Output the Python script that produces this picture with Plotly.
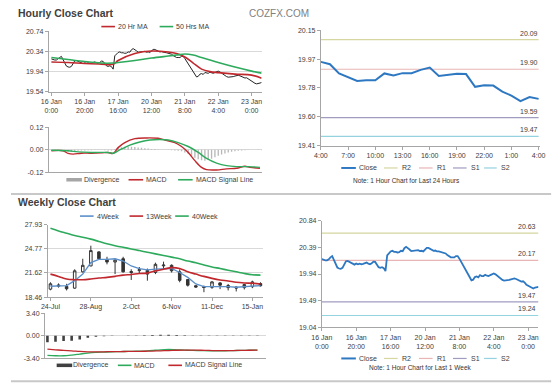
import plotly.graph_objects as go

W, H = 560, 386
FONT = "Liberation Sans, Arial, sans-serif"
TXT = "#404040"
AX = "#a6a6a6"
GRID = "#d9d9d9"
RED = "#c0282d"
GREEN = "#2eaa5c"
BLUE4 = "#5b8fc9"
BLUE = "#2e78c2"
R2C, R1C, S1C, S2C = "#d6d6a0", "#e8b4b4", "#a09cc0", "#94d2e0"

# ---------------- data ----------------
# hourly close, 16 Jan 0:00 .. 23 Jan 6:00 (one value per trading hour)
hourly_close = [
    20.193, 20.177, 20.171, 20.171, 20.188, 20.221, 20.243, 20.177, 20.099, 20.050,
    20.033, 20.027, 20.044, 20.099, 20.155, 20.160, 20.144, 20.122, 20.110, 20.099,
    20.116, 20.105, 20.116, 20.105, 20.110, 20.122, 20.133, 20.116, 20.105, 20.122,
    20.149, 20.144, 20.088, 20.055, 20.044, 20.055, 20.039, 19.989, 20.254, 20.298,
    20.321, 20.332, 20.315, 20.315, 20.304, 20.309, 20.332, 20.326, 20.376, 20.398,
    20.381, 20.354, 20.326, 20.332, 20.337, 20.337, 20.343, 20.326, 20.332, 20.321,
    20.354, 20.381, 20.381, 20.365, 20.343, 20.332, 20.337, 20.321, 20.321, 20.315,
    20.309, 20.298, 20.287, 20.260, 20.232, 20.221, 20.221, 20.221, 20.243, 20.243,
    20.199, 20.144, 20.088, 20.039, 19.978, 19.939, 19.889, 19.834, 19.845, 19.889,
    19.900, 19.884, 19.922, 19.906, 19.906, 19.928, 19.911, 19.906, 19.922, 19.934,
    19.950, 19.934, 19.911, 19.884, 19.856, 19.840, 19.829, 19.829, 19.834, 19.840,
    19.851, 19.862, 19.867, 19.856, 19.840, 19.823, 19.812, 19.817, 19.795, 19.757,
    19.740, 19.729, 19.707, 19.696, 19.712, 19.712, 19.723,
]
hour_ticks = [0, 20, 40, 60, 80, 100, 120]
hour_labels = ["16 Jan<br>0:00", "16 Jan<br>20:00", "17 Jan<br>16:00", "20 Jan<br>12:00",
               "21 Jan<br>8:00", "22 Jan<br>4:00", "23 Jan<br>0:00"]

ma_hours = [0, 10, 20, 30, 37, 40, 50, 60, 70, 75, 80, 85, 90, 95, 100, 110, 120, 126]
ma20 = [20.13, 20.12, 20.10, 20.09, 20.085, 20.16, 20.30, 20.35, 20.33, 20.30, 20.23, 20.11,
        19.99, 19.94, 19.92, 19.89, 19.87, 19.81]
ma50 = [20.22, 20.18, 20.14, 20.11, 20.11, 20.12, 20.16, 20.21, 20.25, 20.27, 20.29, 20.27,
        20.22, 20.17, 20.12, 20.03, 19.95, 19.91]

macd_hours = [0, 7, 10, 13, 18, 24, 30, 34, 37, 40, 44, 50, 57, 64, 68, 74, 78, 82, 86, 90,
              93, 99, 105, 111, 116, 119, 125]
macd_h = [-0.005, -0.005, -0.019, -0.023, -0.018, -0.018, -0.016, -0.014, -0.019, 0.012, 0.039,
          0.060, 0.064, 0.062, 0.053, 0.039, 0.018, -0.014, -0.058, -0.094, -0.106, -0.108,
          -0.102, -0.099, -0.088, -0.094, -0.099]
signal_hours = [0, 10, 16, 24, 34, 37, 41, 47, 53, 59, 65, 70, 76, 82, 88, 93, 99, 105, 111,
                118, 125]
signal_h = [-0.002, -0.005, -0.011, -0.014, -0.014, -0.018, 0.000, 0.025, 0.042, 0.053, 0.056,
            0.053, 0.039, 0.018, -0.014, -0.046, -0.071, -0.085, -0.090, -0.090, -0.094]
div_hours = list(range(0, 127, 2))
div_h = [-0.002, -0.003, -0.005, -0.008, -0.010, -0.010, -0.009, -0.007, -0.005, -0.004,
         -0.003, -0.002, -0.002, -0.001, -0.001, -0.001, -0.002, -0.003, -0.004, 0.004,
         0.010, 0.014, 0.016, 0.017, 0.016, 0.015, 0.013, 0.011, 0.009, 0.007,
         0.005, 0.004, 0.002, 0.001, 0.000, -0.001, -0.002, -0.003, -0.005, -0.008,
         -0.014, -0.022, -0.032, -0.042, -0.050, -0.056, -0.058, -0.055, -0.048, -0.040,
         -0.032, -0.025, -0.019, -0.014, -0.010, -0.007, -0.005, -0.003, -0.002, -0.001,
         0.000, 0.000, -0.001, -0.002]

# last 24 hours
day_close = [19.947, 19.932, 19.873, 19.848, 19.825, 19.829, 19.829, 19.873, 19.860, 19.875,
             19.875, 19.896, 19.911, 19.857, 19.865, 19.871, 19.869, 19.787, 19.797, 19.795,
             19.756, 19.731, 19.695, 19.722, 19.710]
day_tick_labels = ["4:00", "7:00", "10:00", "13:00", "16:00", "19:00", "22:00", "1:00", "4:00"]
day_levels = {"R2": 20.09, "R1": 19.90, "S1": 19.59, "S2": 19.47}
week_levels = {"R2": 20.63, "R1": 20.17, "S1": 19.47, "S2": 19.24}

# weekly
weeks = ["24-Jul", "31-Jul", "7-Aug", "14-Aug", "21-Aug", "28-Aug", "4-Sep", "11-Sep", "18-Sep",
         "25-Sep", "2-Oct", "9-Oct", "16-Oct", "23-Oct", "30-Oct", "6-Nov", "13-Nov", "20-Nov",
         "27-Nov", "4-Dec", "11-Dec", "18-Dec", "25-Dec", "1-Jan", "8-Jan", "15-Jan", "22-Jan"]
w_open = [19.50, 20.05, 19.85, 19.63, 21.77, 22.54, 24.38, 23.39, 23.05, 23.48, 21.81, 21.92,
          21.95, 21.68, 22.55, 22.62, 21.77, 20.75, 19.95, 19.84, 19.73, 20.32, 19.97, 19.78,
          19.70, 19.82, 20.23]
w_close = [20.20, 19.90, 19.55, 21.90, 22.62, 24.55, 23.48, 23.05, 23.30, 21.77, 21.68, 22.05,
           21.47, 22.75, 22.65, 21.90, 20.65, 20.02, 19.77, 19.72, 20.45, 20.02, 19.70, 19.65,
           20.10, 20.45, 19.94]
w_high = [20.40, 20.25, 20.20, 22.10, 23.48, 25.19, 24.46, 23.74, 23.50, 23.74, 22.10, 22.40,
          22.20, 22.97, 23.10, 22.75, 22.10, 20.83, 19.97, 19.97, 20.55, 20.40, 20.18, 19.84,
          20.18, 20.61, 20.40]
w_low = [19.35, 19.70, 19.33, 19.55, 21.68, 22.50, 23.39, 22.75, 21.47, 21.68, 20.70, 21.60,
         20.61, 21.47, 22.10, 21.68, 20.40, 19.84, 19.67, 19.10, 19.54, 19.50, 19.33, 19.20,
         19.46, 19.63, 19.84]
ma4w = [19.88, 19.88, 19.97, 20.61, 21.47, 22.97, 23.39, 23.39, 23.48, 23.18, 22.54, 22.20,
        22.02, 22.11, 22.20, 22.20, 21.68, 21.04, 20.18, 19.84, 19.84, 19.88, 19.84, 19.75,
        19.84, 19.97, 19.97]
ma13w = [21.47, 21.17, 20.83, 20.74, 20.74, 20.83, 20.95, 21.04, 21.17, 21.34, 21.42, 21.55,
         21.60, 21.89, 22.11, 22.32, 22.20, 21.77, 21.47, 21.17, 20.91, 20.70, 20.57, 20.40,
         20.31, 20.27, 20.18]
ma40w = [27.46, 27.12, 26.82, 26.52, 26.30, 26.05, 25.75, 25.45, 25.19, 24.98, 24.76, 24.55,
         24.33, 24.12, 23.91, 23.69, 23.48, 23.18, 22.97, 22.67, 22.41, 22.20, 21.98, 21.77,
         21.55, 21.38, 21.34]
macd_w = [-2.98, -3.03, -3.03, -2.93, -2.78, -2.63, -2.53, -2.48, -2.43, -2.40, -2.38, -2.35,
          -2.33, -2.23, -2.13, -2.08, -2.13, -2.18, -2.23, -2.25, -2.28, -2.28, -2.28, -2.25,
          -2.23, -2.20, -2.18]
signal_w = [-2.03, -2.13, -2.23, -2.28, -2.38, -2.43, -2.43, -2.43, -2.41, -2.40, -2.38, -2.36,
            -2.35, -2.32, -2.28, -2.25, -2.20, -2.18, -2.18, -2.20, -2.23, -2.25, -2.25, -2.24,
            -2.22, -2.20, -2.18]
div_w = [-1.0, -0.9, -0.8, -0.75, -0.55, -0.3, -0.15, -0.08, -0.03, 0.0, 0.05, 0.06, 0.08,
         0.12, 0.15, 0.17, 0.12, 0.08, 0.05, 0.05, 0.05, 0.04, 0.04, 0.04, 0.04, 0.05, 0.05]

# axis tick values / labels
y1t = [19.54, 19.94, 20.34, 20.74]
y2t = [-0.12, 0.0, 0.12]
y3t = [18.46, 21.62, 24.77, 27.93]
y4t = [-3.40, 0.0, 3.40]
y5t = [19.41, 19.595, 19.78, 19.965, 20.15]
y5_labels = ["19.41", "19.60", "19.78", "19.97", "20.15"]
y6t = [19.04, 19.49, 19.94, 20.39, 20.84]

week_idx = list(range(len(weeks)))
day_idx = list(range(len(day_close)))
hour_idx = list(range(len(hourly_close)))


# ---------------- helpers ----------------
def xd(a, b):
    return [a / W, b / W]


def yd(top, bottom):
    return [1 - bottom / H, 1 - top / H]


def px(x):
    return x / W


def py(y):
    return 1 - y / H


fig = go.Figure()

# Panel 1: hourly price
fig.add_trace(go.Scatter(x=hour_idx, y=hourly_close, mode="lines", line=dict(color="#222222", width=1),
                         xaxis="x", yaxis="y"))
fig.add_trace(go.Scatter(x=ma_hours, y=ma20, mode="lines", line=dict(color=RED, width=1.6, shape="spline"),
                         xaxis="x", yaxis="y"))
fig.add_trace(go.Scatter(x=ma_hours, y=ma50, mode="lines", line=dict(color=GREEN, width=1.6, shape="spline"),
                         xaxis="x", yaxis="y"))

# Panel 2: hourly MACD
fig.add_trace(go.Bar(x=div_hours, y=div_h, width=0.8, marker=dict(color="#b8b8b8", line=dict(width=0)),
                     xaxis="x2", yaxis="y2"))
fig.add_trace(go.Scatter(x=macd_hours, y=macd_h, mode="lines", line=dict(color=RED, width=1.4, shape="spline"),
                         xaxis="x2", yaxis="y2"))
fig.add_trace(go.Scatter(x=signal_hours, y=signal_h, mode="lines", line=dict(color=GREEN, width=1.4, shape="spline"),
                         xaxis="x2", yaxis="y2"))

# Panel 3: weekly candles
fig.add_trace(go.Candlestick(x=week_idx, open=w_open, high=w_high, low=w_low, close=w_close,
                             increasing=dict(line=dict(color="#333333", width=1), fillcolor="white"),
                             decreasing=dict(line=dict(color="#333333", width=1), fillcolor="#333333"),
                             whiskerwidth=0, xaxis="x3", yaxis="y3"))
fig.add_trace(go.Scatter(x=week_idx, y=ma4w, mode="lines", line=dict(color=BLUE4, width=1.3),
                         xaxis="x3", yaxis="y3"))
fig.add_trace(go.Scatter(x=week_idx, y=ma13w, mode="lines", line=dict(color=RED, width=1.6, shape="spline"),
                         xaxis="x3", yaxis="y3"))
fig.add_trace(go.Scatter(x=week_idx, y=ma40w, mode="lines", line=dict(color=GREEN, width=1.6, shape="spline"),
                         xaxis="x3", yaxis="y3"))

# Panel 4: weekly MACD
fig.add_trace(go.Bar(x=week_idx, y=div_w, width=0.32, marker=dict(color="#404040", line=dict(width=0)),
                     xaxis="x4", yaxis="y4"))
fig.add_trace(go.Scatter(x=week_idx, y=macd_w, mode="lines", line=dict(color=GREEN, width=1.3, shape="spline"),
                         xaxis="x4", yaxis="y4"))
fig.add_trace(go.Scatter(x=week_idx, y=signal_w, mode="lines", line=dict(color=RED, width=1.3, shape="spline"),
                         xaxis="x4", yaxis="y4"))

# Panel 5: last 24h with pivot levels
lvl_colors = {"R2": R2C, "R1": R1C, "S1": S1C, "S2": S2C}
for k, v in day_levels.items():
    fig.add_trace(go.Scatter(x=[day_idx[0], day_idx[-1]], y=[v, v], mode="lines",
                             line=dict(color=lvl_colors[k], width=1.2), xaxis="x5", yaxis="y5"))
fig.add_trace(go.Scatter(x=day_idx, y=day_close, mode="lines", line=dict(color=BLUE, width=2),
                         xaxis="x5", yaxis="y5"))

# Panel 6: last week with pivot levels
for k, v in week_levels.items():
    fig.add_trace(go.Scatter(x=[hour_idx[0], hour_idx[-1]], y=[v, v], mode="lines",
                             line=dict(color=lvl_colors[k], width=1.2), xaxis="x6", yaxis="y6"))
fig.add_trace(go.Scatter(x=hour_idx, y=hourly_close, mode="lines", line=dict(color=BLUE, width=1.8),
                         xaxis="x6", yaxis="y6"))

# ---------------- axes ----------------
tickfont = dict(family=FONT, size=7, color=TXT)
base_x = dict(showline=True, linecolor=AX, linewidth=1, ticks="outside", ticklen=3, tickcolor=AX,
              tickfont=tickfont, showgrid=False, zeroline=False, fixedrange=True)
base_y = dict(showline=True, linecolor=AX, linewidth=1, ticks="outside", ticklen=3, tickcolor=AX,
              tickfont=tickfont, zeroline=False, fixedrange=True)


def fmt(vals):
    return ["%.2f" % v for v in vals]


fig.update_layout(
    xaxis=dict(base_x, domain=xd(39, 258), range=[-1.5, 126], tickvals=hour_ticks, ticktext=hour_labels,
               anchor="y"),
    yaxis=dict(base_y, domain=yd(27.7, 89.3), range=[19.54, 20.745], tickvals=y1t, ticktext=fmt(y1t),
               showgrid=True, gridcolor=GRID, anchor="x"),
    xaxis2=dict(base_x, domain=xd(39, 258), range=[-1.5, 126], showticklabels=False, ticks="",
                anchor="y2"),
    yaxis2=dict(base_y, domain=yd(125.7, 171.3), range=[-0.12, 0.1205], tickvals=y2t, ticktext=fmt(y2t),
                showgrid=True, gridcolor=GRID, anchor="x2"),
    xaxis3=dict(base_x, domain=xd(37.7, 259.3), range=[-0.35, 26.3], tickvals=week_idx[::5],
                ticktext=weeks[::5], rangeslider=dict(visible=False), anchor="y3"),
    yaxis3=dict(base_y, domain=yd(224.7, 298.5), range=[18.46, 27.95], tickvals=y3t, ticktext=fmt(y3t),
                showgrid=True, gridcolor=GRID, anchor="x3"),
    xaxis4=dict(base_x, domain=xd(35, 262), range=[-0.3, 27], showticklabels=False, ticks="",
                anchor="y4"),
    yaxis4=dict(base_y, domain=yd(315, 360.7), range=[-3.40, 3.42], tickvals=y4t, ticktext=fmt(y4t),
                showgrid=True, gridcolor=GRID, anchor="x4"),
    xaxis5=dict(base_x, domain=xd(319, 545), range=[0, 24.2], tickvals=day_idx[::3],
                ticktext=day_tick_labels, anchor="y5"),
    yaxis5=dict(base_y, domain=yd(26.7, 144.3), range=[19.41, 20.15], tickvals=y5t, ticktext=y5_labels,
                showgrid=False, anchor="x5"),
    xaxis6=dict(base_x, domain=xd(320, 543), range=[0, 126], tickvals=hour_ticks, ticktext=hour_labels,
                anchor="y6"),
    yaxis6=dict(base_y, domain=yd(220.7, 329.3), range=[19.04, 20.84], tickvals=y6t, ticktext=fmt(y6t),
                showgrid=False, anchor="x6"),
)

# ---------------- text, legends, separators ----------------
ann = []
shapes = []


def text(x, y, s, size=7, color=TXT, bold=False, anchor="left"):
    ann.append(dict(x=px(x), y=py(y), xref="paper", yref="paper", text=("<b>%s</b>" % s) if bold else s,
                    showarrow=False, xanchor=anchor, yanchor="middle", borderpad=0,
                    font=dict(family=FONT, size=size, color=color)))


def leg_line(x0, x1, y, color, label, tx, width=1.6):
    shapes.append(dict(type="line", xref="paper", yref="paper", x0=px(x0), x1=px(x1), y0=py(y), y1=py(y),
                       line=dict(color=color, width=width)))
    text(tx, y, label)


def leg_bar(x0, x1, y, color, label, tx):
    shapes.append(dict(type="rect", xref="paper", yref="paper", x0=px(x0), x1=px(x1), y0=py(y - 1.8),
                       y1=py(y + 1.8), fillcolor=color, line=dict(width=0)))
    text(tx, y, label)


text(6, 9.5, "Hourly Close Chart", size=10.5, bold=True)
text(6, 202, "Weekly Close Chart", size=10.5, bold=True)
text(244, 10, "COZFX.COM", size=10, color="#808080")

leg_line(93, 107, 23, RED, "20 Hr MA", 109)
leg_line(153, 167, 23, GREEN, "50 Hrs MA", 169)

leg_bar(57, 73, 179, "#a6a6a6", "Divergence", 74)
leg_line(121, 136, 179, RED, "MACD", 138)
leg_line(172, 187, 179, GREEN, "MACD Signal Line", 189)

leg_line(71, 85, 216, BLUE4, "4Week", 87)
leg_line(122, 136, 216, RED, "13Week", 138)
leg_line(169, 183, 216, GREEN, "40Week", 185)

leg_bar(47, 63, 368, "#404040", "Divergence", 63)
leg_line(110, 124, 368, GREEN, "MACD", 126)
leg_line(162, 176, 368, RED, "MACD Signal Line", 178)

for ly, note in ((167, "Note: 1 Hour Chart for Last 24 Hours"), (361, "Note: 1 Hour Chart for Last 1 Week")):
    leg_line(340, 355, ly, BLUE, "Close", 357, width=2)
    leg_line(384, 398, ly, R2C, "R2", 401, width=1.2)
    leg_line(420, 434, ly, R1C, "R1", 437, width=1.2)
    leg_line(455, 469, ly, S1C, "S1", 472, width=1.2)
    leg_line(487, 500, ly, S2C, "S2", 503, width=1.2)
    text(422 if ly > 200 else 407, ly + (9 if ly > 200 else 13), note, size=6.5, color="#333333", anchor="center")

for k, v in day_levels.items():
    ann.append(dict(x=1, y=v, xref="x5 domain", yref="y5", text="%.2f" % v, showarrow=False,
                    xanchor="right", yanchor="bottom", yshift=1, font=dict(family=FONT, size=7, color=TXT)))
for k, v in week_levels.items():
    ann.append(dict(x=1, y=v, xref="x6 domain", yref="y6", text="%.2f" % v, showarrow=False,
                    xanchor="right", yanchor="bottom", yshift=1, font=dict(family=FONT, size=7, color=TXT)))

for sy in (193.5, 384.3):
    shapes.append(dict(type="line", xref="paper", yref="paper", x0=0, x1=px(556), y0=py(sy), y1=py(sy),
                       line=dict(color="#c8c8c8", width=2)))

fig.update_layout(
    width=W, height=H, margin=dict(l=0, r=0, t=0, b=0),
    paper_bgcolor="white", plot_bgcolor="white", showlegend=False, hovermode=False,
    annotations=ann, shapes=shapes, font=dict(family=FONT, size=7, color=TXT),
    boxgap=0.55,
)

fig.write_html("out.html", config={"displayModeBar": False, "staticPlot": True},
               post_script="document.body.style.margin='0px';")
